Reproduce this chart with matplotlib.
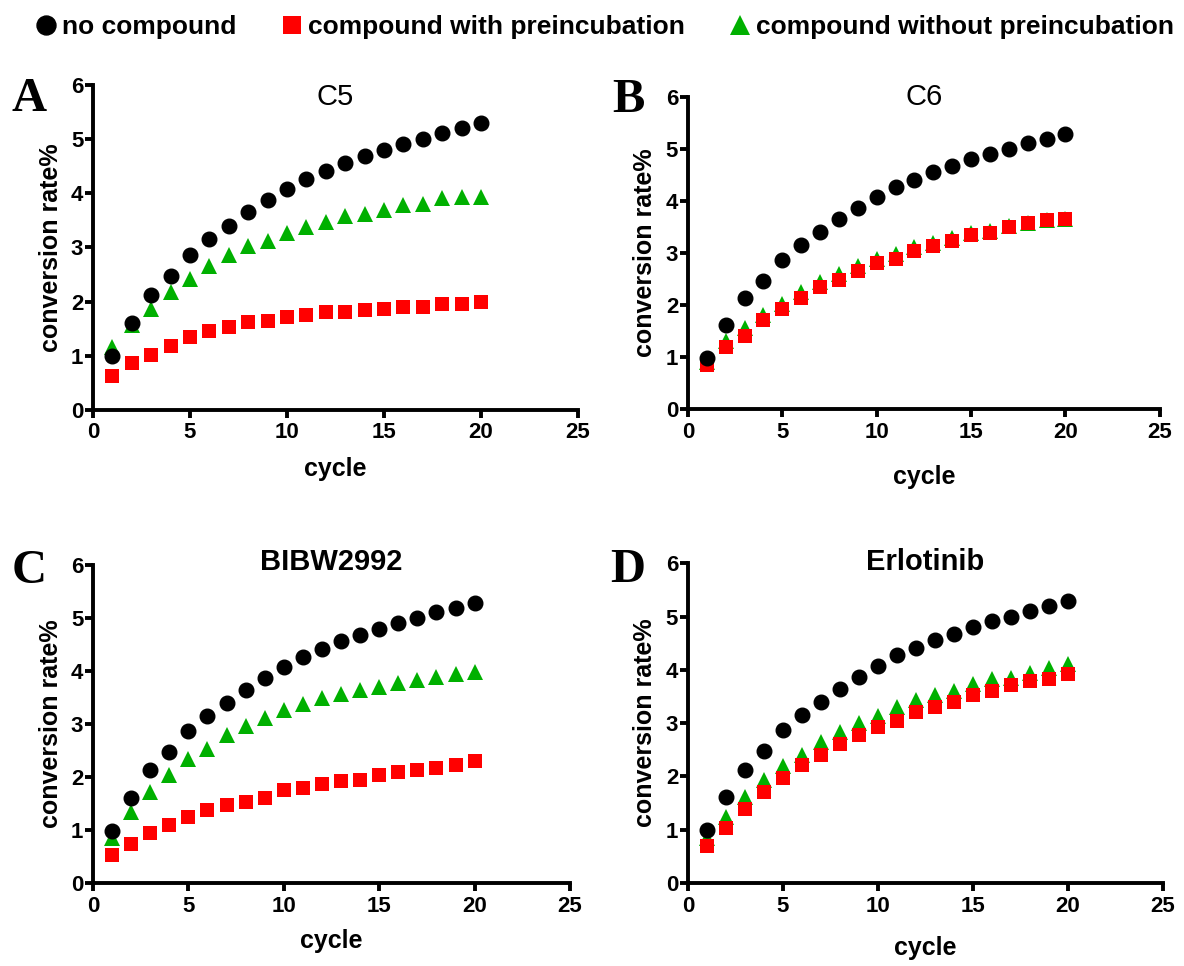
import numpy as np
import matplotlib
matplotlib.use("Agg")
import matplotlib.pyplot as plt

plt.rcParams["font.family"] = ["Liberation Sans", "DejaVu Sans"]

cycles = list(range(1, 21))

no_compound = [0.99, 1.61, 2.13, 2.47, 2.87, 3.15, 3.40, 3.65, 3.87, 4.08,
               4.27, 4.41, 4.56, 4.68, 4.80, 4.91, 5.00, 5.11, 5.20, 5.29]

c5_pre = [0.63, 0.86, 1.02, 1.19, 1.34, 1.45, 1.54, 1.62, 1.65, 1.72,
          1.76, 1.81, 1.81, 1.84, 1.87, 1.91, 1.91, 1.96, 1.96, 1.99]
c5_nopre = [1.17, 1.57, 1.86, 2.17, 2.42, 2.65, 2.87, 3.02, 3.12, 3.27,
            3.38, 3.47, 3.58, 3.61, 3.70, 3.78, 3.81, 3.92, 3.94, 3.94]

c6_pre = [0.84, 1.19, 1.40, 1.71, 1.93, 2.14, 2.35, 2.49, 2.65, 2.81,
          2.89, 3.04, 3.13, 3.23, 3.34, 3.39, 3.50, 3.58, 3.63, 3.66]
c6_nopre = [0.90, 1.30, 1.55, 1.80, 2.02, 2.25, 2.45, 2.60, 2.75, 2.88,
            2.98, 3.12, 3.20, 3.28, 3.38, 3.43, 3.52, 3.58, 3.63, 3.66]

bibw_pre = [0.52, 0.74, 0.94, 1.10, 1.24, 1.37, 1.47, 1.53, 1.60, 1.75,
            1.80, 1.86, 1.93, 1.95, 2.03, 2.09, 2.14, 2.17, 2.23, 2.30]
bibw_nopre = [0.85, 1.34, 1.71, 2.04, 2.35, 2.53, 2.79, 2.96, 3.11, 3.26,
              3.38, 3.49, 3.57, 3.65, 3.71, 3.77, 3.84, 3.89, 3.95, 3.98]

erlo_pre = [0.69, 1.04, 1.39, 1.71, 1.97, 2.21, 2.41, 2.60, 2.78, 2.93,
            3.04, 3.21, 3.31, 3.40, 3.52, 3.61, 3.71, 3.80, 3.83, 3.93]
erlo_nopre = [0.85, 1.24, 1.61, 1.93, 2.19, 2.41, 2.64, 2.83, 3.00, 3.14,
              3.30, 3.43, 3.52, 3.61, 3.74, 3.83, 3.84, 3.94, 4.04, 4.11]

titles = ["C5", "C6", "BIBW2992", "Erlotinib"]
title_bold = [False, False, True, True]
letters = ["A", "B", "C", "D"]
pre_sets = [c5_pre, c6_pre, bibw_pre, erlo_pre]
nopre_sets = [c5_nopre, c6_nopre, bibw_nopre, erlo_nopre]

# axes boxes [left, bottom, width, height] in figure fraction
boxes = [[0.0785, 0.5756, 0.4096, 0.3364],
         [0.581, 0.5766, 0.3986, 0.323],
         [0.0785, 0.0859, 0.403, 0.329],
         [0.581, 0.0859, 0.401, 0.331]]
title_y = [0.963, 1.0, 1.01, 1.005]
xlabel_pad = [10, 16, 9, 14]
letter_pos = [(0.010, 0.898), (0.517, 0.896), (0.010, 0.409), (0.515, 0.410)]

fig = plt.figure(figsize=(11.84, 9.66), dpi=100)

handles = None
for i in range(4):
    ax = fig.add_axes(boxes[i])
    h1, = ax.plot(cycles, no_compound, "o", color="black", markersize=10.5,
                  linestyle="none", zorder=3)
    h3, = ax.plot(cycles, nopre_sets[i], "^", color="#00b000", markersize=11,
                  linestyle="none", zorder=2, markeredgewidth=0)
    h2, = ax.plot(cycles, pre_sets[i], "s", color="#ff0000", markersize=10,
                  linestyle="none", zorder=2.5, markeredgewidth=0)
    if handles is None:
        handles = [h1, h2, h3]

    ax.set_xlim(0, 25)
    ax.set_ylim(0, 6)
    ax.set_xticks([0, 5, 10, 15, 20, 25])
    ax.set_yticks([0, 1, 2, 3, 4, 5, 6])
    for side in ["top", "right"]:
        ax.spines[side].set_visible(False)
    for side in ["left", "bottom"]:
        ax.spines[side].set_linewidth(2.8)
    ax.tick_params(width=2.8, length=6, labelsize=16)
    ax.tick_params(axis="y", pad=1)
    ax.tick_params(axis="x", pad=3)
    for lab in ax.get_xticklabels() + ax.get_yticklabels():
        lab.set_fontweight("bold")
    ax.set_xlabel("cycle", fontsize=18, fontweight="bold", labelpad=xlabel_pad[i])
    ax.set_ylabel("conversion rate%", fontsize=18, fontweight="bold", labelpad=6)
    ax.text(0.5, title_y[i], titles[i], transform=ax.transAxes, fontsize=21,
            fontweight="bold" if title_bold[i] else "normal",
            ha="center", va="center")
    fig.text(letter_pos[i][0], letter_pos[i][1], letters[i], fontsize=35,
             fontweight="bold", family=["Liberation Serif", "DejaVu Serif"],
             va="center", ha="left")

fig.legend(handles, ["no compound", "compound with preincubation",
                     "compound without preincubation"],
           loc="center left", bbox_to_anchor=(0.030, 0.972), ncol=3, frameon=False,
           prop={"size": 19, "weight": "bold"}, handletextpad=0.2,
           columnspacing=1.7, handlelength=0.8, borderpad=0, borderaxespad=0,
           markerscale=1.3)

fig.savefig("out.png", dpi=100)
